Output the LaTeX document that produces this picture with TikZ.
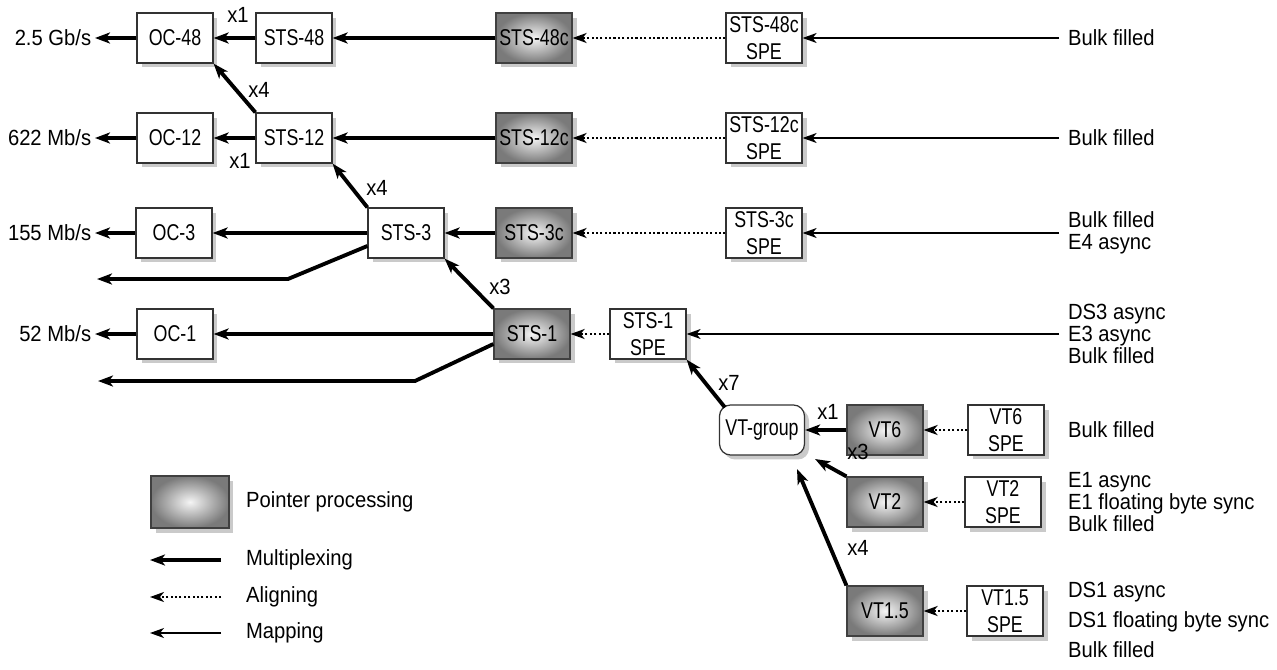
\documentclass[tikz,border=0pt]{standalone}
\usepackage{fontspec}
\setmainfont{Liberation Sans}[FakeStretch=0.92]
\newfontfamily\boxfont{Liberation Sans}[FakeStretch=0.78]
\usetikzlibrary{positioning,arrows.meta,calc,shadows}

\begin{document}
\begin{tikzpicture}[
  x=0.02cm, y=-0.02cm,
  every node/.style={font=\fontsize{12.5}{12.3}\selectfont},
  plainbox/.style={draw=black!80, line width=0.7pt, fill=white,
                   minimum width=1.52cm, minimum height=1cm, inner sep=1pt,
                   align=center, font=\boxfont\fontsize{13}{15.5}\selectfont,
                   drop shadow={shadow xshift=0.09cm, shadow yshift=-0.09cm,
                                fill=black!35, opacity=0.6}},
  ptrbox/.style={plainbox, draw=black!75, inner color=black!4, outer color=black!52},
  grpbox/.style={plainbox, rounded corners=0.22cm, minimum width=1.7cm},
  rate/.style={anchor=east, inner sep=2pt},
  src/.style={anchor=west, align=left, inner ysep=1pt, inner xsep=5pt},
  cnt/.style={inner sep=0pt},
  mux/.style={-{Stealth[length=0.3cm, width=0.22cm, inset=0.08cm]}, line width=2.2pt},
  algn/.style={-{Stealth[length=0.28cm, width=0.2cm, inset=0.08cm]}, line width=1.1pt,
               dash pattern=on 1.2pt off 1.3pt},
  mapp/.style={-{Stealth[length=0.28cm, width=0.2cm, inset=0.08cm]}, line width=0.8pt}]

\useasboundingbox (0,0) rectangle (1277,669);

%% STS-48 / OC-48
\node[plainbox] (oc48)   at (175,38) {OC-48};
\node[plainbox] (sts48)  at (294,38) {STS-48};
\node[ptrbox]   (sts48c) at (534,38) {STS-48c};
\node[plainbox] (spe48c) at (764,38) {STS-48c\\SPE};
\node[rate]     (r48)    at (95,38)  {2.5 Gb/s};
\node[src]      (in48)   at (1059,38) {Bulk filled};

%% STS-12 / OC-12
\node[plainbox] (oc12)   at (175,138) {OC-12};
\node[plainbox] (sts12)  at (294,138) {STS-12};
\node[ptrbox]   (sts12c) at (534,138) {STS-12c};
\node[plainbox] (spe12c) at (764,138) {STS-12c\\SPE};
\node[rate]     (r12)    at (95,138)  {622 Mb/s};
\node[src]      (in12)   at (1059,138) {Bulk filled};

%% STS-3 / OC-3
\node[plainbox] (oc3)   at (174,233) {OC-3};
\node[plainbox] (sts3)  at (406,233) {STS-3};
\node[ptrbox]   (sts3c) at (534,233) {STS-3c};
\node[plainbox] (spe3c) at (764,233) {STS-3c\\SPE};
\node[rate]     (r3)    at (95,233)  {155 Mb/s};
\node[src]      (in3)   at (1059,233) {Bulk filled\\E4 async};

%% STS-1 / OC-1
\node[plainbox] (oc1)  at (175,334) {OC-1};
\node[ptrbox]   (sts1) at (532,334) {STS-1};
\node[plainbox] (spe1) at (648,334) {STS-1\\SPE};
\node[rate]     (r1)   at (95,334)  {52 Mb/s};
\node[src]      (in1)  at (1059,334) {DS3 async\\E3 async\\Bulk filled};

%% virtual tributaries
\node[grpbox]   (vtg)   at (762,430) {VT-group};
\node[ptrbox]   (vt6)   at (885,430) {VT6};
\node[plainbox] (spe6)  at (1006,430) {VT6\\SPE};
\node[src]      (in6)   at (1059,430) {Bulk filled};
\node[ptrbox]   (vt2)   at (885,502) {VT2};
\node[plainbox] (spe2)  at (1003,502) {VT2\\SPE};
\node[src]      (in2)   at (1059,502) {E1 async\\E1 floating byte sync\\Bulk filled};
\node[ptrbox]   (vt15)  at (885,611) {VT1.5};
\node[plainbox] (spe15) at (1005,611) {VT1.5\\SPE};
\node[src]      (in15)  at (1059,620) {DS1 async\\[5pt]DS1 floating byte sync\\[5pt]Bulk filled};

%% multiplex counts
\node[cnt] (n48)  at (238,15)  {x1};
\node[cnt] (n12a) at (259,90)  {x4};
\node[cnt] (n12b) at (240,161) {x1};
\node[cnt] (n3)   at (377,188) {x4};
\node[cnt] (n1)   at (500,287) {x3};
\node[cnt] (nvg)  at (729,383) {x7};
\node[cnt] (nv6)  at (828,412) {x1};
\node[cnt] (nv2)  at (858,452) {x3};
\node[cnt] (nv15) at (858,548) {x4};

%% free ends of the branch lines
\coordinate (knee3) at (288,279);
\coordinate (out3)  at (97,279);
\coordinate (knee1) at (415,381);
\coordinate (out1)  at (98,381);
\coordinate (vin2)  at (815,459);
\coordinate (vin15) at (797,469);

%% legend
\node[ptrbox, minimum width=1.56cm, minimum height=1.04cm] (lgbox) at (190,502) {};
\node[src] (lgptr) at (237,502) {Pointer processing};
\node[src] (lgmux) at (237,560) {Multiplexing};
\node[src] (lgalg) at (237,597) {Aligning};
\node[src] (lgmap) at (237,633) {Mapping};
\coordinate (lgmuxa) at (221,560); \coordinate (lgmuxb) at (150,560);
\coordinate (lgalga) at (221,597); \coordinate (lgalgb) at (150,597);
\coordinate (lgmapa) at (221,633); \coordinate (lgmapb) at (150,633);

%% mapping
\foreach \a/\b in {in48/spe48c, in12/spe12c, in3/spe3c, in1/spe1}
  \draw[mapp] (\a) -- (\b);

%% aligning
\foreach \a/\b in {spe48c/sts48c, spe12c/sts12c, spe3c/sts3c, spe1/sts1,
                   spe6/vt6, spe2/vt2, spe15/vt15}
  \draw[algn] (\a) -- (\b);

%% multiplexing
\foreach \a/\b in {sts48c/sts48, sts48/oc48, oc48/r48,
                   sts12c/sts12, sts12/oc12, oc12/r12,
                   sts3c/sts3, sts3/oc3, oc3/r3,
                   sts1/oc1, oc1/r1, vt6/vtg}
  \draw[mux] (\a) -- (\b);
\draw[mux] (sts12.north west) -- (oc48.south east);
\draw[mux] (sts3.north west) -- (sts12.south east);
\draw[mux] (sts1.north west) -- (sts3.south east);
\draw[mux] ($(sts3.west)+(0,13)$) -- (knee3) -- (out3);
\draw[mux] ($(sts1.west)+(0,10)$) -- (knee1) -- (out1);
\draw[mux] ($(vtg.north west)+(6,3)$) -- (spe1.south east);
\draw[mux] (vt2.north west) -- (vin2);
\draw[mux] (vt15.north west) -- (vin15);

%% legend arrows
\draw[mux]  (lgmuxa) -- (lgmuxb);
\draw[algn] (lgalga) -- (lgalgb);
\draw[mapp] (lgmapa) -- (lgmapb);
\end{tikzpicture}
\end{document}
